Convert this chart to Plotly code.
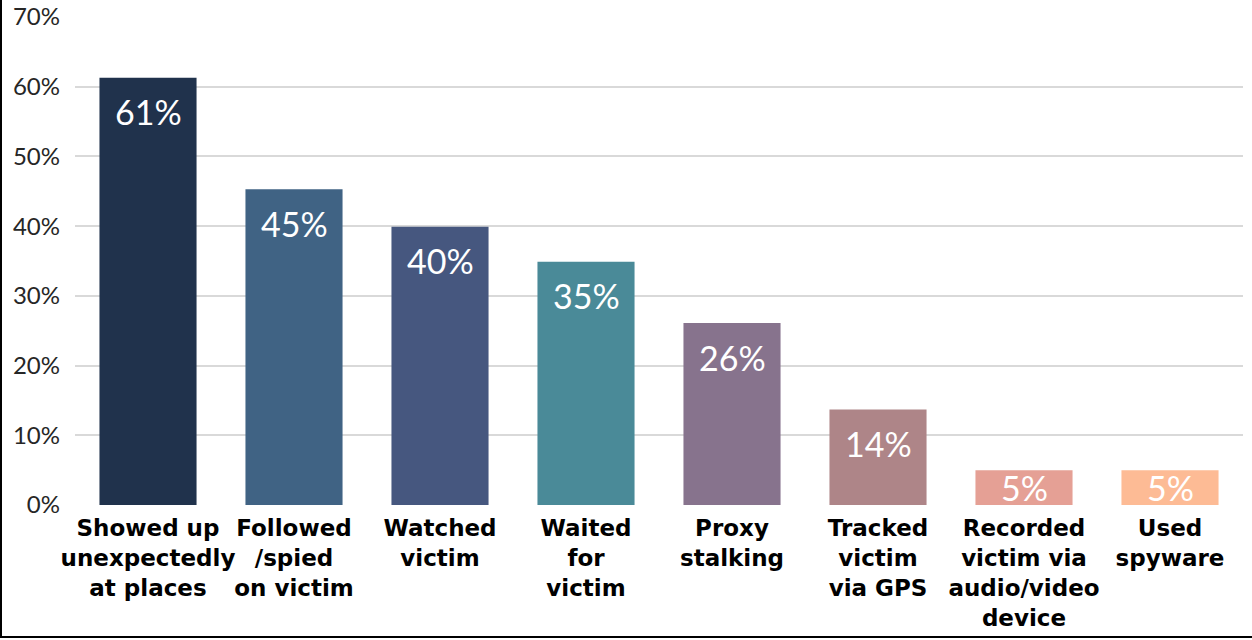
import plotly.graph_objects as go

categories = [
    "Showed up<br>unexpectedly<br>at places",
    "Followed<br>/spied<br>on victim",
    "Watched<br>victim",
    "Waited<br>for<br>victim",
    "Proxy<br>stalking",
    "Tracked<br>victim<br>via GPS",
    "Recorded<br>victim via<br>audio/video<br>device",
    "Used<br>spyware",
]
values = [61.3, 45.3, 39.9, 34.9, 26.1, 13.7, 5.0, 5.0]
colors = ["#20324C", "#406384", "#46577F", "#4A8A98", "#87738D", "#AE8588", "#E5A095", "#FDBB95"]
y_ticks = [0, 10, 20, 30, 40, 50, 60, 70]

W, H = 1252, 640
ML, MR, MT, MB = 75, 9, 17, 135
PW, PH = W - ML - MR, H - MT - MB
YMAX = 70

fig = go.Figure(go.Bar(
    x=categories, y=values,
    marker=dict(color=colors, line=dict(width=0)),
    width=0.665,
    hoverinfo="skip",
))

# value labels inside top of bars
for c, v in zip(categories, values):
    bar_px = v / YMAX * PH
    off = min(34, bar_px / 2)
    fig.add_annotation(
        x=c, y=v, text=f"{v:.0f}%", showarrow=False,
        yanchor="middle", yshift=-off,
        font=dict(family="Lato", size=34, color="white"),
    )

fig.update_layout(
    width=W, height=H,
    margin=dict(l=ML, r=MR, t=MT, b=MB, pad=0),
    paper_bgcolor="white", plot_bgcolor="white",
    showlegend=False,
    xaxis=dict(
        tickfont=dict(family="DejaVu Sans", size=23, color="black", weight="bold"),
        showgrid=False, showline=False, ticks="", tickangle=0, automargin=False,
        ticklabelstandoff=7,
    ),
    yaxis=dict(
        range=[0, YMAX],
        tickvals=y_ticks,
        ticktext=[f"{v}%" for v in y_ticks],
        tickfont=dict(family="Lato", size=24, color="#262626"),
        showgrid=True, gridcolor="#D9D9D9", gridwidth=2,
        zeroline=False, showline=False, ticks="",
        ticklabelstandoff=14, automargin=False,
    ),
    shapes=[
        dict(type="line", xref="paper", yref="paper",
             x0=(1 - ML) / PW, x1=(1 - ML) / PW,
             y0=(H - MB) / PH, y1=-(638 - (H - MB)) / PH,
             line=dict(color="black", width=2)),
        dict(type="line", xref="paper", yref="paper",
             x0=(0 - ML) / PW, x1=(W - ML) / PW,
             y0=-(637 - (H - MB)) / PH, y1=-(637 - (H - MB)) / PH,
             line=dict(color="black", width=2)),
    ],
)

fig.write_html("out.html", config={"displayModeBar": False},
               post_script="document.body.style.margin='0px';")
